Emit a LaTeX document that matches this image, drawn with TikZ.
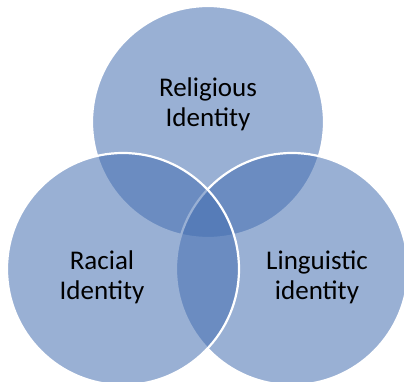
\documentclass[tikz,border=0pt]{standalone}
\usepackage{fontspec}
\setmainfont{Carlito}
\begin{document}
\begin{tikzpicture}[x=1pt,y=-1pt,
  venn/.style={fill=vennblue,fill opacity=0.55,draw=white,draw opacity=1,line width=2.2pt},
  lbl/.style={align=center,font=\fontsize{27}{30}\selectfont,text=black}]
\definecolor{vennblue}{RGB}{70,112,178}
\useasboundingbox (0,0) rectangle (404,381);
\fill[white] (0,0) rectangle (404,381);
\path[venn] (208,122) circle (116);
\path[venn] (292,269) circle (116);
\path[venn] (123,269) circle (116);
\node[lbl] (rel) at (208,104) {Religious\\Identity};
\node[lbl] (rac) at (102,277) {Racial\\Identity};
\node[lbl] (lin) at (317,277) {Linguistic\\identity};
\end{tikzpicture}
\end{document}
